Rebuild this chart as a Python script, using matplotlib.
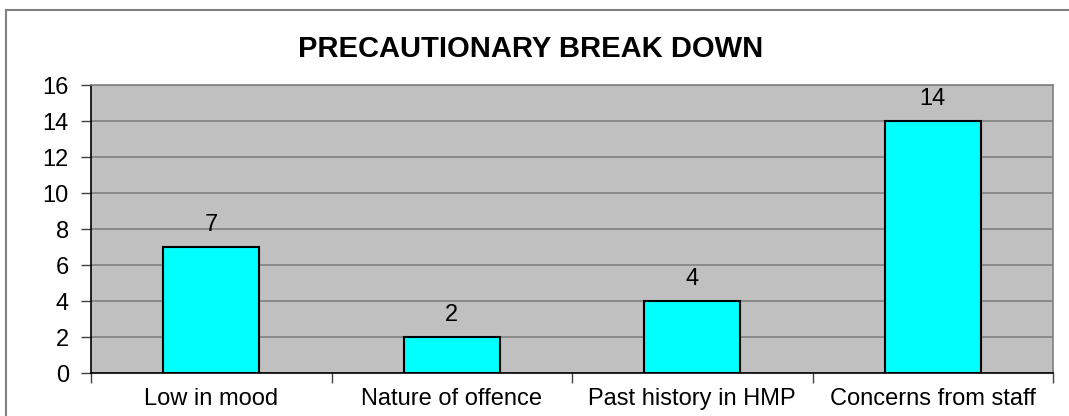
import matplotlib
matplotlib.use("Agg")
import matplotlib.pyplot as plt
from matplotlib.lines import Line2D
import numpy as np

categories = ["Low in mood", "Nature of offence", "Past history in HMP", "Concerns from staff"]
values = [7, 2, 4, 14]
yticks = [0, 2, 4, 6, 8, 10, 12, 14, 16]
title = "PRECAUTIONARY BREAK DOWN"

plt.rcParams['font.family'] = ['Liberation Sans', 'DejaVu Sans']

W, H = 1069, 416
fig = plt.figure(figsize=(W / 100, H / 100), dpi=100)
fig.patch.set_facecolor('white')

# outer chart border (top and left visible)
fig.add_artist(Line2D([6 / W, 6 / W, 1.05], [-0.05, 1 - 10 / H, 1 - 10 / H], transform=fig.transFigure,
                      color='#808080', linewidth=1.5, solid_joinstyle='miter'))

ax = fig.add_axes([91 / W, 1 - 373 / H, (1053 - 91) / W, (373 - 85) / H])
ax.set_facecolor('#C0C0C0')

x = np.arange(len(categories))
ax.bar(x, values, width=0.4, color='#00FFFF', edgecolor='black', linewidth=1.5, zorder=3)

ax.set_xlim(-0.5, len(categories) - 0.5)
ax.set_ylim(0, 16)
ax.set_yticks(yticks)
ax.set_yticklabels([str(t) for t in yticks], fontsize=17)
ax.yaxis.grid(True, color='#808080', linewidth=1.2, zorder=1)
ax.set_axisbelow(True)

ax.set_xticks(x)
ax.set_xticklabels(categories, fontsize=17)
ax.set_xticks(np.arange(-0.5, len(categories)), minor=True)
ax.tick_params(axis='x', which='major', length=0, pad=11)
ax.tick_params(axis='x', which='minor', length=7, width=1, color='#404040', direction='out')
ax.tick_params(axis='y', length=7, width=1, color='#404040', direction='out', pad=9)

for side in ['top', 'right']:
    ax.spines[side].set_color('#808080')
    ax.spines[side].set_linewidth(1.2)
ax.spines['left'].set_color('black')
ax.spines['bottom'].set_color('black')
ax.spines['left'].set_linewidth(1.2)
ax.spines['bottom'].set_linewidth(1.2)

for xi, v in zip(x, values):
    ax.annotate(str(v), (xi, v), xytext=(0, 11.5), textcoords='offset points',
                ha='center', va='baseline', fontsize=17)

fig.text(531 / W, 1 - 57 / H, title, ha='center', va='baseline', fontsize=21, fontweight='bold')

fig.savefig('out.png', dpi=100)
